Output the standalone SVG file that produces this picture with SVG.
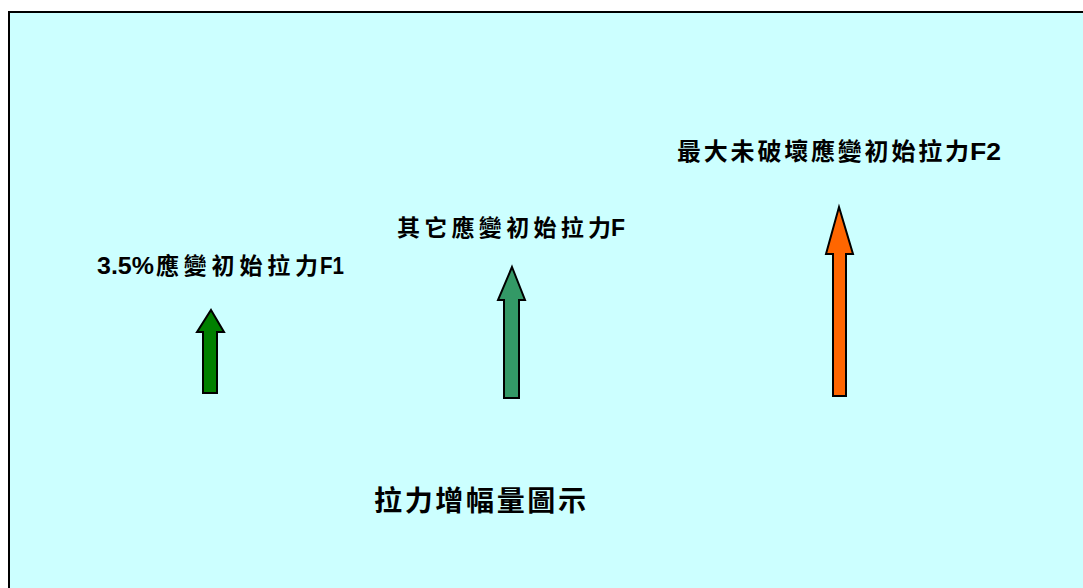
<svg xmlns="http://www.w3.org/2000/svg" width="1083" height="588" viewBox="0 0 1083 588">
<style>
.lat{font-family:"Liberation Sans",Arial,sans-serif;font-weight:bold;fill:#000}
.cjk{font-family:"Noto Sans CJK TC","Noto Sans CJK SC",sans-serif;font-weight:bold;fill:#000}
.arr{stroke:#000;stroke-width:2;stroke-linejoin:miter}
</style>
<rect x="0" y="0" width="1083" height="588" fill="#FFFFFF"/>
<rect id="frame" x="9" y="12" width="1100" height="600" fill="#CCFFFF" stroke="#000" stroke-width="2"/>
<g id="connectors">
<polygon id="arrow1" class="arr" fill="#008000" points="211,310 224,332 217,332 217,393 203,393 203,332 197,332"/>
<polygon id="arrow2" class="arr" fill="#339966" points="512,267 525,300 519,300 519,398 504,398 504,300 498,300"/>
<polygon id="arrow3" class="arr" fill="#FF6600" points="839,207 853,254 846,254 846,396 833,396 833,254 826,254"/>
</g>
<g id="label1">
<text y="274"><tspan class="lat" x="97" font-size="23" textLength="57" lengthAdjust="spacingAndGlyphs">3.5%</tspan><tspan class="cjk" x="156" font-size="23" textLength="162" lengthAdjust="spacing">應變初始拉力</tspan><tspan class="lat" x="320" font-size="24" textLength="24" lengthAdjust="spacingAndGlyphs">F1</tspan></text>
</g>
<g id="label2">
<text y="236"><tspan class="cjk" x="397" font-size="23" textLength="214" lengthAdjust="spacing">其它應變初始拉力</tspan><tspan class="lat" x="611" font-size="23">F</tspan></text>
</g>
<g id="label3">
<text y="160"><tspan class="cjk" x="677" font-size="24" textLength="292" lengthAdjust="spacing">最大未破壞應變初始拉力</tspan><tspan class="lat" x="970" font-size="23" textLength="31" lengthAdjust="spacingAndGlyphs">F2</tspan></text>
</g>
<g id="title">
<text y="511" class="cjk" x="374" font-size="28" textLength="212" lengthAdjust="spacing">拉力增幅量圖示</text>
</g>
</svg>
